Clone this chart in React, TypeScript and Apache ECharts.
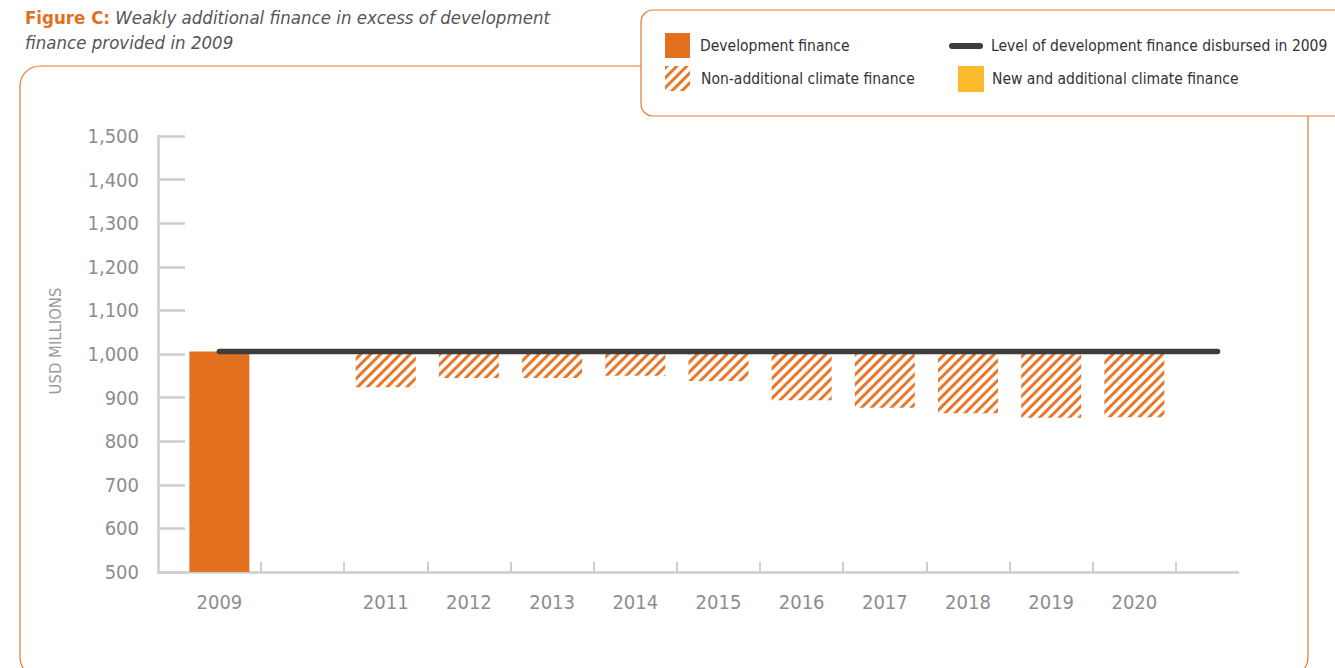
import React, { useEffect, useRef } from "react";
import * as echarts from "echarts";

const FONT = "'Liberation Sans Narrow', 'DejaVu Sans Condensed', 'Roboto Condensed', Roboto, sans-serif";
const ORANGE = "#e2701f";
const HATCH = "#e8772a";
const YELLOW = "#fbba2b";
const LINE = "#3d3d3d";
const AXIS = "#cdcdcd";
const LABEL = "#8d8d8d";

// x positions (years) of the columns
const years = [2009, 2011, 2012, 2013, 2014, 2015, 2016, 2017, 2018, 2019, 2020];
const xLabelYears = [2009, 2011, 2012, 2013, 2014, 2015, 2016, 2017, 2018, 2019, 2020];
const xTickPositions = [2009.5, 2010.5, 2011.5, 2012.5, 2013.5, 2014.5, 2015.5, 2016.5, 2017.5, 2018.5, 2019.5, 2020.5];
const xMin = 2008.262;
const xMax = 2021.246;
const yMin = 500;
const yMax = 1500;
const yStep = 100;

// USD millions
const developmentFinance = [1006, null, null, null, null, null, null, null, null, null, null];
const otherDevelopmentFinance = [null, 924, 945, 945, 950, 938, 894, 877, 864, 854, 855];
const nonAdditionalClimate = [null, 76, 55, 55, 50, 62, 106, 123, 136, 146, 145];
const newAdditionalClimate = [null, 5, 5, 5, 5, 5, 5, 5, 5, 5, 5];
const level2009 = 1006;
const levelLineYears = [2009, 2021];

const NAMES = {
  dev: "Development finance",
  nonAdd: "Non-additional climate finance",
  level: "Level of development finance disbursed in 2009",
  newAdd: "New and additional climate finance",
};

const rows = (vals: (number | null)[]) => vals.map((v, i) => [v, years[i]]);

export default function App() {
  const ref = useRef<HTMLDivElement>(null);
  useEffect(() => {
    if (!ref.current) return;
    const chart = echarts.init(ref.current, null, { renderer: "svg" });
    const stackBase = {
      type: "bar",
      stack: "total",
      dimensions: ["value", "year"],
      encode: { x: "year", y: "value" },
      barWidth: 60,
    };
    const legendText = { color: "#333", fontSize: 15.5, fontFamily: FONT };
    chart.setOption({
      animation: false,
      textStyle: { fontFamily: FONT },
      title: {
        left: 20,
        top: 0,
        text: "{b|Figure C:} {i|Weakly additional finance in excess of development}\n{i|finance provided in 2009}",
        textStyle: {
          fontSize: 18.5,
          fontWeight: "normal",
          lineHeight: 25,
          rich: {
            b: { fontWeight: "bold", color: ORANGE, fontSize: 18.5, fontFamily: FONT, lineHeight: 25 },
            i: { fontStyle: "italic", fontWeight: "normal", color: "#555", fontSize: 18.5, fontFamily: FONT, lineHeight: 25 },
          },
        },
      },
      graphic: [
        {
          type: "rect",
          z: 0,
          shape: { x: 20, y: 66, width: 1288, height: 611, r: 20 },
          style: { fill: "none", stroke: "#e8782f", lineWidth: 1.2 },
        },
        {
          type: "rect",
          z: 1,
          shape: { x: 641, y: 10, width: 720, height: 106, r: 12 },
          style: { fill: "#fff", stroke: "#e8782f", lineWidth: 1.2 },
        },
      ],
      legend: [
        {
          data: [{ name: NAMES.dev, icon: "rect" }],
          left: 665, top: 33, itemWidth: 25, itemHeight: 25, padding: 0,
          selectedMode: false, textStyle: { ...legendText, padding: [0, 0, 0, 5] },
        },
        {
          data: [{ name: NAMES.nonAdd, icon: "rect" }],
          left: 665, top: 66, itemWidth: 25, itemHeight: 25, padding: 0,
          selectedMode: false, textStyle: { ...legendText, padding: [0, 0, 0, 6] },
        },
        {
          data: [{ name: NAMES.level, icon: "path://M3,0 H31 A3,3 0 0 1 31,6 H3 A3,3 0 0 1 3,0 Z" }],
          left: 949, top: 38, itemWidth: 34, itemHeight: 6, padding: 0,
          selectedMode: false, itemStyle: { borderWidth: 0 },
          textStyle: { ...legendText, padding: [0, 0, 0, 3] },
        },
        {
          data: [{ name: NAMES.newAdd, icon: "rect" }],
          left: 958, top: 66, itemWidth: 26, itemHeight: 26, padding: 0,
          selectedMode: false, textStyle: { ...legendText, padding: [0, 0, 0, 3] },
        },
      ],
      grid: { left: 158, right: 97, top: 136, bottom: 96 },
      xAxis: {
        type: "value",
        min: xMin,
        max: xMax,
        splitLine: { show: false },
        axisLine: { show: true, lineStyle: { color: AXIS, width: 2.5 } },
        axisTick: {
          show: true,
          inside: true,
          length: 10,
          customValues: xTickPositions,
          lineStyle: { color: AXIS, width: 2 },
        },
        axisLabel: {
          customValues: xLabelYears,
          formatter: (v: number) => String(v),
          margin: 20,
          fontSize: 20,
          color: LABEL,
          fontFamily: FONT,
        },
      },
      yAxis: {
        type: "value",
        min: yMin,
        max: yMax,
        interval: yStep,
        name: "USD MILLIONS",
        nameLocation: "middle",
        nameRotate: 90,
        nameGap: 94,
        nameTextStyle: { color: "#9a9a9a", fontSize: 16.5, fontFamily: FONT, padding: [0, 0, 0, 26] },
        splitLine: { show: false },
        axisLine: { show: true, lineStyle: { color: AXIS, width: 2.5 } },
        axisTick: { show: true, inside: true, length: 27, lineStyle: { color: AXIS, width: 2.5 } },
        axisLabel: { margin: 19, fontSize: 20, color: LABEL, fontFamily: FONT },
      },
      series: [
        { ...stackBase, name: NAMES.dev, data: rows(developmentFinance), itemStyle: { color: ORANGE } },
        {
          ...stackBase,
          name: "Other development finance",
          data: rows(otherDevelopmentFinance),
          itemStyle: { color: "rgba(0,0,0,0)" },
          silent: true,
        },
        {
          ...stackBase,
          name: NAMES.nonAdd,
          data: rows(nonAdditionalClimate),
          itemStyle: {
            color: "#ffffff",
            decal: {
              symbol: "rect",
              symbolSize: 1,
              color: HATCH,
              dashArrayX: [1, 0],
              dashArrayY: [3, 4],
              rotation: -Math.PI / 4,
            },
          },
        },
        { ...stackBase, name: NAMES.newAdd, data: rows(newAdditionalClimate), itemStyle: { color: YELLOW } },
        {
          type: "line",
          name: NAMES.level,
          data: levelLineYears.map((y) => [y, level2009]),
          symbol: "none",
          color: LINE,
          itemStyle: { color: LINE },
          lineStyle: { color: LINE, width: 5.5, cap: "round" },
        },
      ],
    });
    return () => chart.dispose();
  }, []);
  return (
    <div
      ref={ref}
      style={{ position: "absolute", left: 0, top: 0, width: 1335, height: 668 }}
    />
  );
}
